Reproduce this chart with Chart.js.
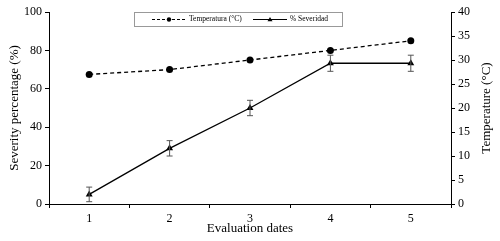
<!DOCTYPE html>
<html>
<head>
<meta charset="utf-8">
<script src="https://cdn.jsdelivr.net/npm/chart.js@4"></script>
<style>
  html, body { margin: 0; padding: 0; background: #fff; }
  #wrap { width: 500px; height: 241px; }
</style>
</head>
<body>
<div id="wrap"><canvas id="sevChart"></canvas></div>
<script>
// data
const evalDates = ['1', '2', '3', '4', '5'];
const temperature = [27, 28, 30, 32, 34];        // °C, right axis
const severity = [5, 29, 50, 73.3, 73.3];        // %, left axis
const severityErr = [3.8, 4, 4, 4.2, 4.2];       // ± error bars
const leftTicks = [0, 20, 40, 60, 80, 100];
const rightTicks = [0, 5, 10, 15, 20, 25, 30, 35, 40];

const serif = 'Liberation Serif, Times New Roman, serif';

// draws the vertical error bars for the severity series
const errorBars = {
  id: 'errorBars',
  afterDatasetsDraw(chart) {
    const ctx = chart.ctx;
    const x = chart.scales.x, y = chart.scales.y;
    ctx.save();
    ctx.strokeStyle = '#555';
    ctx.lineWidth = 1;
    severity.forEach(function (v, i) {
      const px = x.getPixelForValue(i);
      const top = y.getPixelForValue(v + severityErr[i]);
      const bot = y.getPixelForValue(v - severityErr[i]);
      ctx.beginPath();
      ctx.moveTo(px, top); ctx.lineTo(px, bot);
      ctx.moveTo(px - 3, top); ctx.lineTo(px + 3, top);
      ctx.moveTo(px - 3, bot); ctx.lineTo(px + 3, bot);
      ctx.stroke();
    });
    ctx.restore();
  }
};

// right axis title reads bottom-to-top like the left one
const rightTitle = {
  id: 'rightTitle',
  afterDraw(chart) {
    const ctx = chart.ctx;
    const a = chart.chartArea;
    ctx.save();
    ctx.translate(chart.width - 13, (a.top + a.bottom) / 2);
    ctx.rotate(-Math.PI / 2);
    ctx.font = '13px ' + serif;
    ctx.fillStyle = '#000';
    ctx.textAlign = 'center';
    ctx.textBaseline = 'middle';
    ctx.fillText('Temperature (°C)', 0, 0);
    ctx.restore();
  }
};

// boxed legend sitting at the top of the plot
const boxLegend = {
  id: 'boxLegend',
  afterDraw(chart) {
    const ctx = chart.ctx;
    const a = chart.chartArea;
    const bx = a.left + 85, by = a.top, bw = 208, bh = 14;
    ctx.save();
    ctx.fillStyle = '#fff';
    ctx.fillRect(bx, by, bw, bh);
    ctx.strokeStyle = '#999';
    ctx.lineWidth = 1;
    ctx.strokeRect(bx + 0.5, by + 0.5, bw, bh);
    const cy = by + bh / 2 + 0.5;
    ctx.strokeStyle = '#000';
    ctx.fillStyle = '#000';
    ctx.lineWidth = 1.2;
    // temperature sample
    ctx.setLineDash([3, 2]);
    ctx.beginPath(); ctx.moveTo(bx + 18, cy); ctx.lineTo(bx + 52, cy); ctx.stroke();
    ctx.setLineDash([]);
    ctx.beginPath(); ctx.arc(bx + 35, cy, 2.2, 0, Math.PI * 2); ctx.fill();
    // severity sample
    ctx.beginPath(); ctx.moveTo(bx + 119, cy); ctx.lineTo(bx + 153, cy); ctx.stroke();
    ctx.beginPath();
    ctx.moveTo(bx + 136, cy - 2.5); ctx.lineTo(bx + 138.5, cy + 1.8); ctx.lineTo(bx + 133.5, cy + 1.8);
    ctx.closePath(); ctx.fill();
    ctx.font = '7.5px ' + serif;
    ctx.textBaseline = 'middle';
    ctx.fillText('Temperatura (°C)', bx + 55, cy);
    ctx.fillText('% Severidad', bx + 156, cy);
    ctx.restore();
  }
};

new Chart(document.getElementById('sevChart'), {
  type: 'line',
  data: {
    labels: evalDates,
    datasets: [
      {
        label: 'Temperatura (°C)',
        data: temperature,
        yAxisID: 'y1',
        borderColor: '#000',
        backgroundColor: '#000',
        borderWidth: 1.3,
        borderDash: [4, 3],
        pointStyle: 'circle',
        pointRadius: 3.5,
        pointBorderWidth: 0,
        tension: 0
      },
      {
        label: '% Severidad',
        data: severity,
        yAxisID: 'y',
        borderColor: '#000',
        backgroundColor: '#000',
        borderWidth: 1.3,
        pointStyle: 'triangle',
        pointRadius: 4,
        pointBorderWidth: 0,
        tension: 0
      }
    ]
  },
  options: {
    responsive: true,
    maintainAspectRatio: false,
    animation: false,
    layout: { padding: { top: 12 } },
    plugins: { legend: { display: false }, tooltip: { enabled: false } },
    scales: {
      x: {
        offset: true,
        grid: { offset: true, drawOnChartArea: false, tickLength: 4, color: '#000' },
        border: { color: '#000', width: 1 },
        ticks: { color: '#000', font: { family: serif, size: 12 }, padding: 4, maxRotation: 0 },
        title: { display: true, text: 'Evaluation dates', color: '#000', font: { family: serif, size: 13 }, padding: { top: 0, bottom: 5 } },
        afterFit(s) { s.height = 37; }
      },
      y: {
        position: 'left',
        min: 0, max: 100,
        afterBuildTicks(s) { s.ticks = leftTicks.map(v => ({ value: v })); },
        grid: { drawOnChartArea: false, tickLength: 4, color: '#000' },
        border: { color: '#000', width: 1 },
        ticks: { color: '#000', font: { family: serif, size: 12 }, padding: 3 },
        title: { display: true, text: 'Severity percentage (%)', color: '#000', font: { family: serif, size: 13 }, padding: { top: 7, bottom: 0 } },
        afterFit(s) { s.width = 49; }
      },
      y1: {
        position: 'right',
        min: 0, max: 40,
        afterBuildTicks(s) { s.ticks = rightTicks.map(v => ({ value: v })); },
        grid: { drawOnChartArea: false, tickLength: 4, color: '#000' },
        border: { color: '#000', width: 1 },
        ticks: { color: '#000', font: { family: serif, size: 12 }, padding: 3 },
        title: { display: false },
        afterFit(s) { s.width = 49; }
      }
    }
  },
  plugins: [errorBars, rightTitle, boxLegend]
});
</script>
</body>
</html>
